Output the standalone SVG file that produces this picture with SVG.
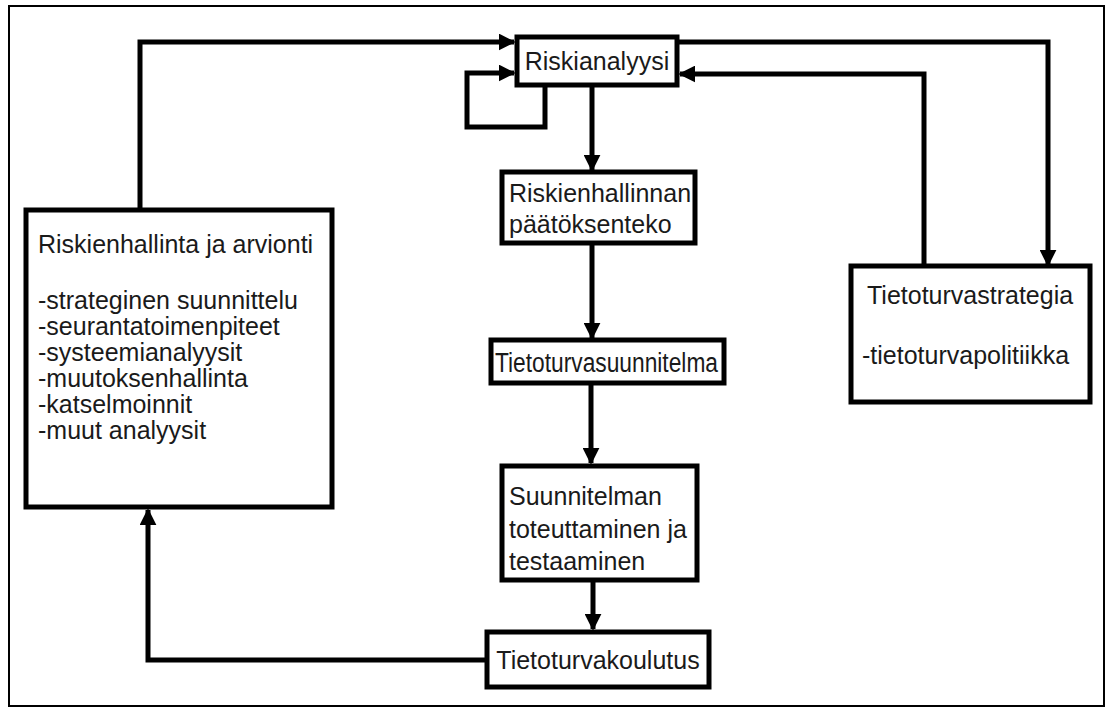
<svg xmlns="http://www.w3.org/2000/svg" width="1110" height="713" viewBox="0 0 1110 713">
<defs>
<marker id="ah" viewBox="0 0 10 10" refX="9" refY="5" markerWidth="3.4" markerHeight="3.4" orient="auto" markerUnits="strokeWidth">
<path d="M0,0 L10,5 L0,10 z" fill="#000"/>
</marker>
<style>
.box{fill:#fff;stroke:#000;stroke-width:5}
.t{font-family:"Liberation Sans",Arial,sans-serif;font-size:25px;fill:#1a1a1a}
.c{fill:none;stroke:#000;stroke-width:5;stroke-linejoin:miter}
</style>
</defs>
<rect x="0" y="0" width="1110" height="713" fill="#fff"/>
<rect x="9" y="6" width="1095" height="700" fill="none" stroke="#000" stroke-width="2"/>
<g id="connectors">
<path class="c" d="M140,210 V42 H514" marker-end="url(#ah)"/>
<path class="c" d="M545,86 V127 H467 V73 H514" marker-end="url(#ah)"/>
<path class="c" d="M677,42 H1048 V265" marker-end="url(#ah)"/>
<path class="c" d="M924,266 V74 H680" marker-end="url(#ah)"/>
<path class="c" d="M592,86 V170" marker-end="url(#ah)"/>
<path class="c" d="M592,243 V338" marker-end="url(#ah)"/>
<path class="c" d="M591,383 V463" marker-end="url(#ah)"/>
<path class="c" d="M593,580 V629" marker-end="url(#ah)"/>
<path class="c" d="M487,660 H148 V510" marker-end="url(#ah)"/>
</g>
<g id="riskianalyysi">
<rect class="box" x="517" y="37" width="160" height="48"/>
<text class="t" x="597" y="70" text-anchor="middle">Riskianalyysi</text>
</g>
<g id="paatoksenteko">
<rect class="box" x="502" y="172" width="193" height="71"/>
<text class="t" x="509" y="202">Riskienhallinnan</text>
<text class="t" x="509" y="233">päätöksenteko</text>
</g>
<g id="suunnitelma">
<rect class="box" x="491" y="340" width="233" height="43"/>
<text class="t" x="495" y="372" style="font-size:27px" textLength="223" lengthAdjust="spacingAndGlyphs">Tietoturvasuunnitelma</text>
</g>
<g id="toteuttaminen">
<rect class="box" x="502" y="466" width="195" height="114"/>
<text class="t" x="509" y="505">Suunnitelman</text>
<text class="t" x="509" y="538">toteuttaminen ja</text>
<text class="t" x="509" y="570">testaaminen</text>
</g>
<g id="koulutus">
<rect class="box" x="487" y="632" width="222" height="55"/>
<text class="t" x="598" y="669" text-anchor="middle">Tietoturvakoulutus</text>
</g>
<g id="hallinta">
<rect class="box" x="26" y="210" width="306" height="297"/>
<text class="t" x="38" y="253">Riskienhallinta ja arvionti</text>
<text class="t" x="38" y="309">-strateginen suunnittelu</text>
<text class="t" x="38" y="335">-seurantatoimenpiteet</text>
<text class="t" x="38" y="361">-systeemianalyysit</text>
<text class="t" x="38" y="387">-muutoksenhallinta</text>
<text class="t" x="38" y="413">-katselmoinnit</text>
<text class="t" x="38" y="439">-muut analyysit</text>
</g>
<g id="strategia">
<rect class="box" x="851" y="266" width="239" height="136"/>
<text class="t" x="867" y="304">Tietoturvastrategia</text>
<text class="t" x="862" y="364">-tietoturvapolitiikka</text>
</g>
</svg>
